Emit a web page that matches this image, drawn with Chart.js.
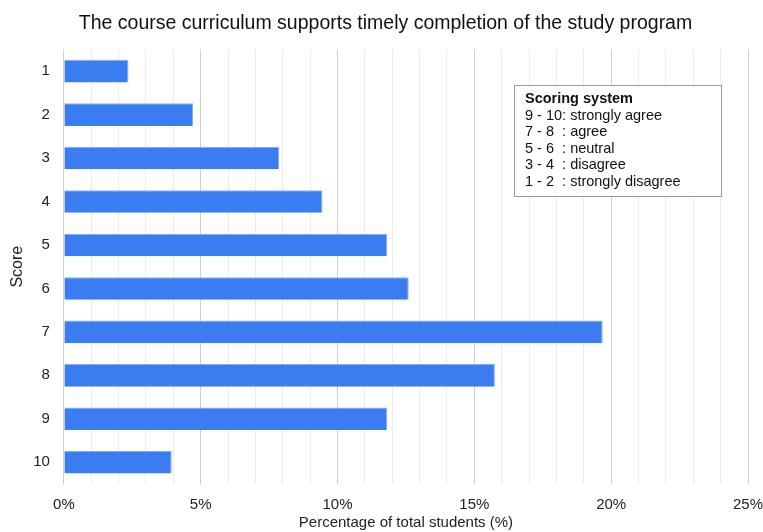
<!DOCTYPE html>
<html>
<head>
<meta charset="utf-8">
<script src="https://cdn.jsdelivr.net/npm/chart.js@4/dist/chart.umd.min.js"></script>
<style>
  html, body { margin: 0; padding: 0; background: #fff; }
  #wrap { width: 763px; height: 532px; }
</style>
</head>
<body>
<div id="wrap"><canvas id="myChart"></canvas></div>
<script>
'use strict';
// scores on the y axis, share of students (%) for each score
let scores = ['1', '2', '3', '4', '5', '6', '7', '8', '9', '10'];
let percents = [2.36, 4.72, 7.87, 9.45, 11.81, 12.60, 19.69, 15.75, 11.81, 3.94];
let legendLines = ['9 - 10: strongly agree', '7 - 8  : agree', '5 - 6  : neutral', '3 - 4  : disagree', '1 - 2  : strongly disagree'];

const fontFamily = '"Liberation Sans", Arial, Helvetica, sans-serif';

// blue gradient for each bar, light on top and darker at the bottom
function barColor(context) {
  let chart = context.chart;
  if (!chart.chartArea) return '#3b7cf0';
  let el = chart.getDatasetMeta(0).data[context.dataIndex];
  if (!el || el.y === undefined) return '#3b7cf0';
  let h = el.height || 22;
  let g = chart.ctx.createLinearGradient(0, el.y - h / 2, 0, el.y + h / 2);
  g.addColorStop(0, '#5d9bf8');
  g.addColorStop(1, '#2c6ce4');
  return g;
}

// the "Scoring system" box in the upper right
const scoringBox = {
  id: 'scoringBox',
  afterDatasetsDraw(chart) {
    let ctx = chart.ctx;
    let x = 514, y = 85, w = 207, h = 111;
    ctx.save();
    ctx.fillStyle = '#fff';
    ctx.fillRect(x, y, w, h);
    ctx.strokeStyle = '#9a9a9a';
    ctx.lineWidth = 1;
    ctx.strokeRect(x + 0.5, y + 0.5, w, h);
    ctx.fillStyle = '#111';
    ctx.textBaseline = 'middle';
    ctx.font = 'bold 14.5px ' + fontFamily;
    ctx.fillText('Scoring system', x + 11, y + 14);
    ctx.font = '14.5px ' + fontFamily;
    for (let i = 0; i < legendLines.length; i++) {
      ctx.fillText(legendLines[i], x + 11, y + 31 + i * 16.4);
    }
    ctx.restore();
  }
};

let ctx = document.getElementById('myChart').getContext('2d');
let myChart = new Chart(ctx, {
  type: 'bar',
  data: {
    labels: scores,
    datasets: [{
      data: percents,
      backgroundColor: barColor,
      borderColor: '#7fb0fa',
      borderWidth: { top: 1, bottom: 0, left: 0, right: 1 },
      categoryPercentage: 0.52,
      barPercentage: 1
    }]
  },
  options: {
    indexAxis: 'y',
    responsive: true,
    maintainAspectRatio: false,
    animation: false,
    layout: { padding: { left: 8, right: 0, top: 2, bottom: 0 } },
    plugins: {
      legend: { display: false },
      tooltip: { enabled: false },
      title: {
        display: true,
        text: 'The course curriculum supports timely completion of the study program',
        color: '#111',
        font: { family: fontFamily, size: 19.5, weight: 'normal' },
        padding: { top: 10, bottom: 14 }
      }
    },
    scales: {
      x: {
        min: 0,
        max: 25,
        // only half of the "25%" label needs room on the right
        afterFit: scale => { scale.paddingRight = 15; },
        ticks: {
          stepSize: 1,
          autoSkip: false,
          maxRotation: 0,
          color: '#222',
          font: { family: fontFamily, size: 15 },
          padding: 12,
          callback: v => (v % 5 === 0 ? v + '%' : '')
        },
        grid: {
          color: c => (c.tick && c.tick.value % 5 === 0 ? '#cfcfcf' : '#ececec'),
          drawTicks: false
        },
        border: { display: false },
        title: {
          display: true,
          text: 'Percentage of total students (%)',
          color: '#222',
          font: { family: fontFamily, size: 15 },
          padding: { top: -12, bottom: 0 }
        }
      },
      y: {
        ticks: {
          color: '#222',
          font: { family: fontFamily, size: 15 },
          padding: 6
        },
        grid: { display: false },
        border: { display: false },
        title: {
          display: true,
          text: 'Score',
          color: '#222',
          font: { family: fontFamily, size: 16 },
          padding: { top: 0, bottom: 0 }
        }
      }
    }
  },
  plugins: [scoringBox]
});
</script>
</body>
</html>
